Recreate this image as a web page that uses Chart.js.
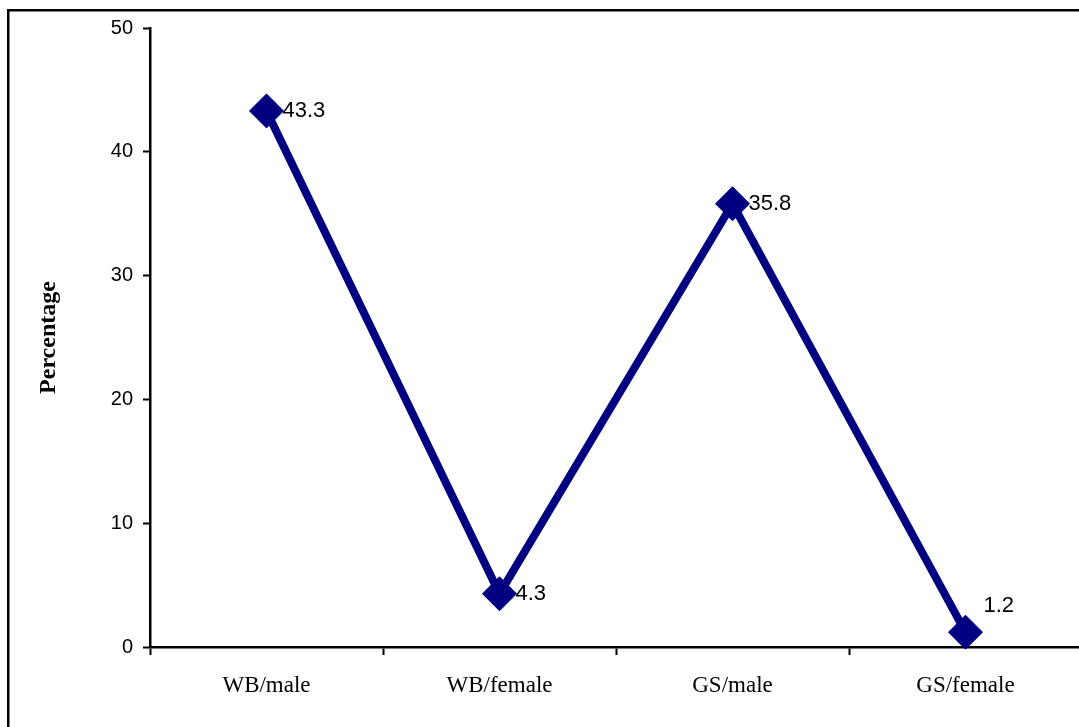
<!DOCTYPE html>
<html>
<head>
<meta charset="utf-8">
<title>Percentage by group</title>
<script src="https://cdn.jsdelivr.net/npm/chart.js@4/dist/chart.umd.min.js"></script>
<style>
  html, body { margin: 0; padding: 0; background: #fff; overflow: hidden; }
  #wrap { position: relative; width: 1100px; height: 727px; }
</style>
</head>
<body>
<div id="wrap"><canvas id="c" width="1100" height="727"></canvas></div>
<script>
// Groups on the horizontal axis
const categories = ['WB/male', 'WB/female', 'GS/male', 'GS/female'];
// Share of each group, in percent
const percentages = [43.3, 4.3, 35.8, 1.2];
// Value axis range and step
const yMin = 0;
const yMax = 50;
const yStep = 10;

const NAVY = '#000080';

// White page with the outer frame (only its top and left edges fall on the page)
const framePlugin = {
  id: 'frame',
  beforeDraw(chart) {
    const ctx = chart.ctx;
    ctx.save();
    ctx.fillStyle = '#fff';
    ctx.fillRect(0, 0, chart.width, chart.height);
    ctx.fillStyle = '#000';
    ctx.fillRect(7, 9, 2.5, chart.height);
    ctx.fillRect(7, 9, chart.width, 2.5);
    ctx.restore();
  }
};

// Value labels beside each marker
const valueLabelPlugin = {
  id: 'valueLabels',
  afterDatasetsDraw(chart) {
    const ctx = chart.ctx;
    const meta = chart.getDatasetMeta(0);
    const values = chart.data.datasets[0].data;
    ctx.save();
    ctx.font = '22px "Liberation Sans", Arial, sans-serif';
    ctx.fillStyle = '#000';
    ctx.textAlign = 'left';
    ctx.textBaseline = 'middle';
    meta.data.forEach((pt, i) => {
      const v = values[i];
      // points sitting near the baseline get their label lifted above-right
      const nearBase = (v - yMin) < 3;
      const dx = nearBase ? 18 : 16;
      const dy = nearBase ? -26 : 0;
      ctx.fillText(String(v), pt.x + dx, pt.y + dy);
    });
    ctx.restore();
  }
};

new Chart(document.getElementById('c'), {
  type: 'line',
  data: {
    labels: categories,
    datasets: [{
      data: percentages,
      borderColor: NAVY,
      backgroundColor: NAVY,
      borderWidth: 8,
      tension: 0,
      pointStyle: 'rectRot',
      pointRadius: 17,
      pointHoverRadius: 17,
      pointBackgroundColor: NAVY,
      pointBorderColor: NAVY,
      pointBorderWidth: 1,
      clip: false
    }]
  },
  options: {
    responsive: false,
    animation: false,
    devicePixelRatio: 1,
    events: [],
    layout: { padding: { top: 28, right: 17, bottom: 0, left: 0 } },
    plugins: {
      legend: { display: false },
      tooltip: { enabled: false },
      title: { display: false }
    },
    scales: {
      x: {
        type: 'category',
        offset: true,
        border: { display: true, color: '#000', width: 2.5 },
        grid: {
          offset: true,
          drawOnChartArea: false,
          drawTicks: true,
          tickLength: 8,
          tickWidth: 2,
          tickColor: '#000'
        },
        ticks: {
          color: '#000',
          padding: 17,
          maxRotation: 0,
          autoSkip: false,
          font: { family: '"Liberation Serif", "Times New Roman", serif', size: 23 }
        },
        afterFit(scale) { scale.height = 80; }
      },
      y: {
        min: yMin,
        max: yMax,
        border: { display: true, color: '#000', width: 2.5 },
        grid: {
          drawOnChartArea: false,
          drawTicks: true,
          tickLength: 7,
          tickWidth: 2,
          tickColor: '#000'
        },
        ticks: {
          stepSize: yStep,
          color: '#000',
          padding: 10,
          font: { family: '"Liberation Sans", Arial, sans-serif', size: 20 }
        },
        title: {
          display: true,
          text: 'Percentage',
          color: '#000',
          padding: { top: 34, bottom: 0 },
          font: { family: '"Liberation Serif", "Times New Roman", serif', size: 24, weight: 'bold' }
        },
        afterFit(scale) { scale.width = 150; }
      }
    }
  },
  plugins: [framePlugin, valueLabelPlugin]
});
</script>
</body>
</html>
